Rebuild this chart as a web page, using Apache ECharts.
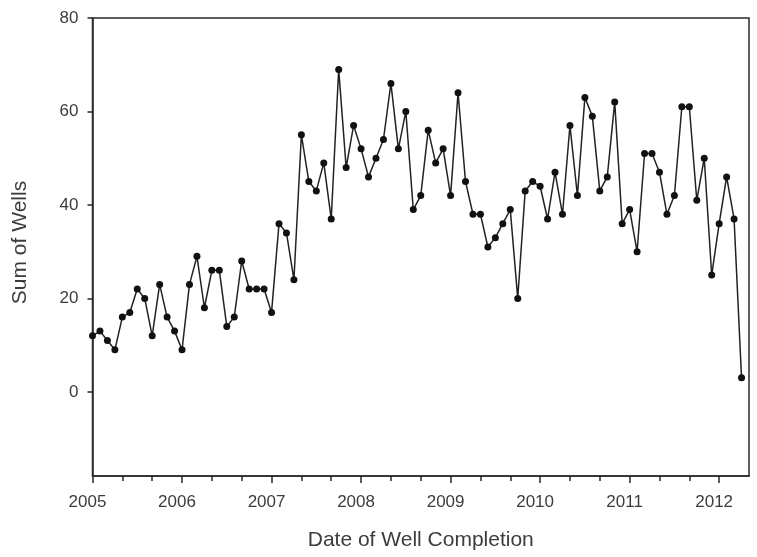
<!DOCTYPE html>
<html>
<head>
<meta charset="utf-8">
<script src="https://cdn.jsdelivr.net/npm/echarts@6/dist/echarts.min.js"></script>
<style>
html,body{margin:0;padding:0;background:#fff;}
#chart{width:757px;height:557px;}
</style>
</head>
<body>
<div id="chart"></div>
<script>
// Monthly well completion counts, starting January 2005
const startYear = 2005;
const wellCounts = [
  12, 13, 11, 9, 16, 17, 22, 20, 12, 23, 16, 13,
  9, 23, 29, 18, 26, 26, 14, 16, 28, 22, 22, 22,
  17, 36, 34, 24, 55, 45, 43, 49, 37, 69, 48, 57,
  52, 46, 50, 54, 66, 52, 60, 39, 42, 56, 49, 52,
  42, 64, 45, 38, 38, 31, 33, 36, 39, 20, 43, 45,
  44, 37, 47, 38, 57, 42, 63, 59, 43, 46, 62, 36,
  39, 30, 51, 51, 47, 38, 42, 61, 61, 41, 50, 25,
  36, 46, 37, 3
];
const yearTicks = [2005, 2006, 2007, 2008, 2009, 2010, 2011, 2012];
const yTicks = [0, 20, 40, 60, 80];
const xMin = 2005, xMax = 2012 + 4 / 12;
const yMin = -18, yMax = 80;

// month positions (decimal years) for each observation
const points = wellCounts.map((v, i) => [startYear + i / 12, v]);
// minor ticks every 4 months
const minorTicks = [];
yearTicks.slice(0, -1).forEach(y => { minorTicks.push(y + 1 / 3, y + 2 / 3); });

const fontFam = '"Liberation Sans", Arial, sans-serif';
const txtColor = '#3c3c3c';
const axisColor = '#2a2a2a';

const chart = echarts.init(document.getElementById('chart'));
chart.setOption({
  animation: false,
  backgroundColor: '#fff',
  grid: {
    left: 92.5, right: 8, top: 18, bottom: 81,
    show: true, borderColor: axisColor, borderWidth: 1.5, backgroundColor: 'transparent'
  },
  xAxis: [{
    type: 'value', min: xMin, max: xMax,
    name: 'Date of Well Completion', nameLocation: 'middle', nameGap: 54,
    nameTextStyle: { fontFamily: fontFam, fontSize: 21, color: txtColor },
    axisLine: { show: true, onZero: false, lineStyle: { color: axisColor, width: 1.5 } },
    axisTick: { show: true, inside: false, customValues: yearTicks, length: 7, lineStyle: { color: axisColor, width: 1.5 } },
    axisLabel: {
      customValues: yearTicks, margin: 18, fontFamily: fontFam, fontSize: 17, color: txtColor,
      padding: [0, 10, 0, 0], formatter: v => String(Math.round(v))
    },
    splitLine: { show: false }
  }, {
    type: 'value', min: xMin, max: xMax, position: 'bottom', offset: 0,
    axisLine: { show: false, onZero: false },
    axisTick: { show: true, inside: false, customValues: minorTicks, length: 5, lineStyle: { color: axisColor, width: 1.5 } },
    axisLabel: { show: false },
    splitLine: { show: false }
  }],
  yAxis: {
    type: 'value', min: yMin, max: yMax,
    name: 'Sum of Wells', nameLocation: 'middle', nameGap: 62,
    nameTextStyle: { fontFamily: fontFam, fontSize: 21, color: txtColor, padding: [0, 0, 0, 9] },
    axisLine: { show: true, onZero: false, lineStyle: { color: axisColor, width: 1.5 } },
    axisTick: { show: true, customValues: yTicks, length: 5, lineStyle: { color: axisColor, width: 1.5 } },
    axisLabel: { customValues: yTicks, margin: 14, fontFamily: fontFam, fontSize: 17, color: txtColor },
    splitLine: { show: false }
  },
  series: [{
    type: 'line', xAxisIndex: 0, data: points,
    symbol: 'circle', symbolSize: 7,
    itemStyle: { color: '#111' },
    lineStyle: { color: '#222', width: 1.5 }
  }]
});
</script>
</body>
</html>
